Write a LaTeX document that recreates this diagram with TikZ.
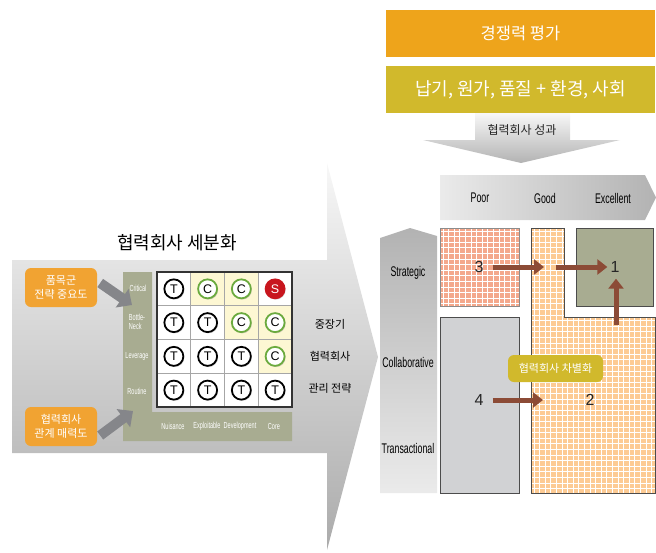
\documentclass[tikz,border=0pt]{standalone}
\usepackage{fontspec}
\setmainfont{Liberation Sans}
\newfontfamily\krfont{Noto Sans CJK KR}
\newfontfamily\narrowsf[FakeStretch=0.63]{Liberation Sans}
\usetikzlibrary{arrows.meta,shadows}

\definecolor{toporange}{HTML}{EEA41B}
\definecolor{barolive}{HTML}{D1B92C}
\definecolor{boxorange}{HTML}{F1A332}
\definecolor{matolive}{HTML}{A8AC91}
\definecolor{cellyellow}{HTML}{FDF7D3}
\definecolor{cgreen}{HTML}{6BAA3E}
\definecolor{sred}{HTML}{C8161E}
\definecolor{pinkfill}{HTML}{F4A88C}
\definecolor{peachfill}{HTML}{FDCB94}
\definecolor{boxgrey}{HTML}{D1D2D4}
\definecolor{brownarr}{HTML}{8C4B36}
\definecolor{greyarr}{HTML}{85868A}

\tikzset{
  krtext/.style={font=\krfont\fontsize{11}{14}\selectfont, align=center, inner sep=1pt},
  whitekr/.style={krtext, text=white},
  orangebox/.style={whitekr, fill=boxorange, rounded corners=6pt,
    minimum width=72pt, minimum height=39pt, inner sep=0pt},
  biglbl/.style={font=\narrowsf\fontsize{14}{16}\selectfont, inner sep=1pt},
  smalllbl/.style={font=\narrowsf\fontsize{8.8}{9}\selectfont, text=white, align=left, inner sep=0pt},
  cellT/.style={circle, draw=black, line width=1.8pt, fill=white, minimum size=19pt,
    inner sep=0pt, font=\fontsize{12.5}{13}\selectfont,
    drop shadow={shadow xshift=1pt, shadow yshift=-1.2pt, opacity=0.35}},
  cellC/.style={cellT, draw=cgreen},
  cellS/.style={cellT, draw=sred, fill=sred, text=white},
  num/.style={font=\fontsize{16}{16}\selectfont, text=black!85, inner sep=2pt},
  brownarrow/.style={draw=brownarr, line width=5pt, -{Triangle[length=10pt,width=15pt]}},
  greyarrow/.style={draw=greyarr, line width=10pt, -{Triangle[length=12pt,width=22pt]}},
  gridline/.style={white, line width=1pt}
}

\begin{document}
\begin{tikzpicture}[x=1pt,y=-1pt]
\useasboundingbox (0,0) rectangle (656,552);

% big arrow, left
\shade[top color=black!3, bottom color=black!33]
  (12,260) -- (327,260) -- (327,163) -- (378,357) -- (327,550) -- (327,453) -- (12,453) -- cycle;
\node[krtext, font=\krfont\fontsize{18}{20}\selectfont] (segtitle) at (177,243) {협력회사 세분화};

\fill[matolive] (123,272) -- (152,272) -- (152,412) -- (292,412) -- (292,441) -- (123,441) -- cycle;
\foreach \i/\j in {1/2,1/3,2/3,2/4,3/4}
  \fill[cellyellow] (157+33.75*\j-33.75,272+33.75*\i-33.75) rectangle ++(33.75,33.75);
\fill[white] (157,272) rectangle (292,407);
\foreach \i/\j in {1/2,1/3,2/3,2/4,3/4}
  \fill[cellyellow] (157+33.75*\j-33.75,272+33.75*\i-33.75) rectangle ++(33.75,33.75);
\foreach \k in {1,2,3} {
  \draw[black!35, line width=0.6pt] (157+33.75*\k,272) -- (157+33.75*\k,407);
  \draw[black!35, line width=0.6pt] (157,272+33.75*\k) -- (292,272+33.75*\k);
}
\draw[black!80, line width=1.2pt] (157,272) rectangle (292,407);

\foreach \i/\j/\t in {1/1/T,1/2/C,1/3/C,1/4/S,
                      2/1/T,2/2/T,2/3/C,2/4/C,
                      3/1/T,3/2/T,3/3/T,3/4/C,
                      4/1/T,4/2/T,4/3/T,4/4/T}
  \node[cell\t] (m\i\j) at (140.1+33.75*\j,255.1+33.75*\i) {\t};

\node[smalllbl] (rcrit) at (138,288) {Critical};
\node[smalllbl] (rbott) at (137,322) {Bottle-\\Neck};
\node[smalllbl] (rleve) at (137,356) {Leverage};
\node[smalllbl] (rrout) at (137,391) {Routine};
\node[smalllbl] (cnuis) at (173,426) {Nuisance};
\node[smalllbl] (cexpl) at (207,426) {Exploitable};
\node[smalllbl] (cdev) at (240,426) {Development};
\node[smalllbl] (ccore) at (274,426) {Core};

\node[orangebox] (imp) at (61,287.5) {품목군\\전략 중요도};
\node[orangebox] (rel) at (61,426.5) {협력회사\\관계 매력도};
\coordinate (impend) at (132,305);
\coordinate (relend) at (133,411);
\draw[greyarrow] ([xshift=3pt,yshift=4.5pt]imp.east) -- (impend);
\draw[greyarrow] ([xshift=3pt,yshift=-9pt]rel.east) -- (relend);

\node[krtext] (plan1) at (330,324) {중장기};
\node[krtext] (plan2) at (330,356) {협력회사};
\node[krtext] (plan3) at (330,388) {관리 전략};

% evaluation, top right
\node[whitekr, fill=toporange, minimum width=269pt, minimum height=47pt,
  font=\krfont\fontsize{16.5}{18}\selectfont] (evalbar) at (520.5,33.5) {경쟁력 평가};
\node[whitekr, fill=barolive, minimum width=269pt, minimum height=47pt,
  font=\krfont\fontsize{18}{20}\selectfont] (critbar) at (520.5,89.5) {납기, 원가, 품질 + 환경, 사회};
\shade[top color=black!3, bottom color=black!30]
  (475,113) -- (570,113) -- (570,140) -- (620,140) -- (521,163) -- (423,140) -- (475,140) -- cycle;
\node[krtext, text=black!85, font=\krfont\fontsize{12}{14}\selectfont] (perf) at (522,130) {협력회사 성과};

% performance matrix
\shade[left color=black!8, right color=black!30]
  (440,175) -- (645,175) -- (656,197.5) -- (645,220) -- (440,220) -- cycle;
\node[biglbl] (hpoor) at (480,198) {Poor};
\node[biglbl] (hgood) at (545,198) {Good};
\node[biglbl] (hexc) at (613,198) {Excellent};

\shade[top color=black!30, bottom color=black!8]
  (380,238) -- (410,228) -- (437,236) -- (437,493) -- (380,493) -- cycle;
\node[biglbl] (rstrat) at (408,273) {Strategic};
\node[biglbl] (rcoll) at (408,362) {Collaborative};
\node[biglbl] (rtrans) at (408,448) {Transactional};

\fill[pinkfill] (440,228) rectangle (519,306);
\begin{scope}
  \clip (440,228) rectangle (519,306);
  \foreach \x in {443,448.6,...,520} \draw[gridline] (\x,228) -- (\x,306);
  \foreach \y in {231,236.6,...,306} \draw[gridline] (440,\y) -- (519,\y);
\end{scope}
\draw[black!45, line width=0.6pt] (440,228) rectangle (519,306);

\fill[peachfill] (531,228) -- (564,228) -- (564,317) -- (655,317) -- (655,493) -- (531,493) -- cycle;
\begin{scope}
  \clip (531,228) -- (564,228) -- (564,317) -- (655,317) -- (655,493) -- (531,493) -- cycle;
  \foreach \x in {534,539.6,...,656} \draw[gridline] (\x,228) -- (\x,493);
  \foreach \y in {231,236.6,...,494} \draw[gridline] (531,\y) -- (655,\y);
\end{scope}
\draw[black!70, line width=0.7pt] (531,228) -- (564,228) -- (564,317) -- (655,317) -- (655,493) -- (531,493) -- cycle;

\draw[black!70, line width=0.7pt, fill=matolive] (576,228) rectangle (653,306);
\draw[black!70, line width=0.7pt, fill=boxgrey] (440,317) rectangle (519,493);

\node[num] (n3) at (479,267) {3};
\node[num] (n1) at (615,267) {1};
\node[num] (n4) at (479,400) {4};
\node[num] (n2) at (590,400) {2};
\coordinate (g1) at (544,267);
\coordinate (g2) at (556,267);
\coordinate (v0) at (616,325);
\coordinate (c2) at (543,400);
\draw[brownarrow, shorten <=7pt] (n3.east) -- (g1);
\draw[brownarrow, shorten >=1pt] (g2) -- (n1.west);
\draw[brownarrow] (v0) -- ([xshift=1pt,yshift=-4pt]n1.south);
\draw[brownarrow, shorten <=7pt] (n4.east) -- (c2);

\node[whitekr, fill=barolive, rounded corners=6pt, minimum width=95pt, minimum height=27pt]
  (diff) at (555.5,368.5) {협력회사 차별화};
\end{tikzpicture}
\end{document}
